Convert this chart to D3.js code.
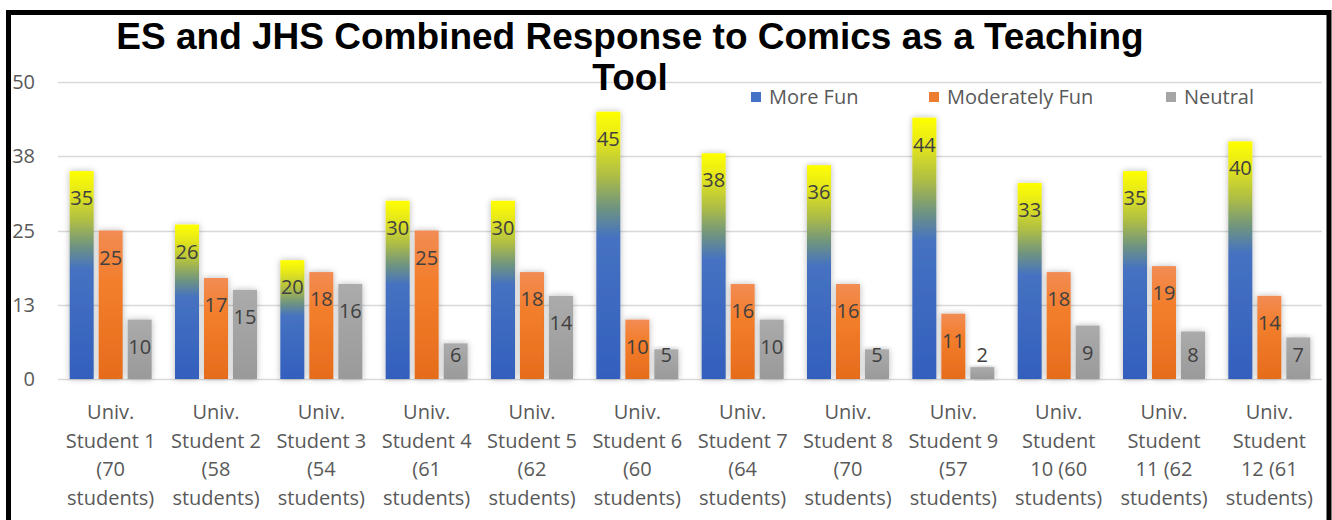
<!DOCTYPE html>
<html><head><meta charset="utf-8">
<script src="https://cdn.jsdelivr.net/npm/d3@7"></script>
<style>html,body{margin:0;padding:0;background:#fff;overflow:hidden}</style>
</head><body><svg id="c" width="1332" height="520"></svg>
<script>
const categories = [
  "Univ.|Student 1|(70|students)",
  "Univ.|Student 2|(58|students)",
  "Univ.|Student 3|(54|students)",
  "Univ.|Student 4|(61|students)",
  "Univ.|Student 5|(62|students)",
  "Univ.|Student 6|(60|students)",
  "Univ.|Student 7|(64|students)",
  "Univ.|Student 8|(70|students)",
  "Univ.|Student 9|(57|students)",
  "Univ.|Student|10 (60|students)",
  "Univ.|Student|11 (62|students)",
  "Univ.|Student|12 (61|students)"
];
const seriesNames = ["More Fun", "Moderately Fun", "Neutral"];
const moreFun = [35, 26, 20, 30, 30, 45, 38, 36, 44, 33, 35, 40];
const moderatelyFun = [25, 17, 18, 25, 18, 10, 16, 16, 11, 18, 19, 14];
const neutral = [10, 15, 16, 6, 14, 5, 10, 5, 2, 9, 8, 7];
const tickValues = [0, 12.5, 25, 37.5, 50];
const tickLabels = ["0", "13", "25", "38", "50"];
const titleLines = ["ES and JHS Combined Response to Comics as a Teaching", "Tool"];

const seriesValues = [moreFun, moderatelyFun, neutral];
const svg = d3.select("#c");
const W = 1332, H = 520;
svg.append("rect").attr("width", W).attr("height", H).attr("fill", "#fff");

const defs = svg.append("defs");
const gBlue = defs.append("linearGradient").attr("id", "gBlue").attr("x1", 0).attr("y1", 0).attr("x2", 0).attr("y2", 1);
[[0, "#ffff00"], [0.1, "#e6e81a"], [0.24, "#aebd45"], [0.36, "#6f9480"], [0.47, "#4672c2"], [1, "#335fbd"]]
  .forEach(([o, c]) => gBlue.append("stop").attr("offset", o).attr("stop-color", c));
const gOrange = defs.append("linearGradient").attr("id", "gOrange").attr("x1", 0).attr("y1", 0).attr("x2", 0).attr("y2", 1);
[[0, "#f28c54"], [0.35, "#f37e2c"], [1, "#e66c1c"]]
  .forEach(([o, c]) => gOrange.append("stop").attr("offset", o).attr("stop-color", c));
const gGray = defs.append("linearGradient").attr("id", "gGray").attr("x1", 0).attr("y1", 0).attr("x2", 0).attr("y2", 1);
[[0, "#ababab"], [1, "#9a9a9a"]]
  .forEach(([o, c]) => gGray.append("stop").attr("offset", o).attr("stop-color", c));
const f = defs.append("filter").attr("id", "sh").attr("x", "-40%").attr("y", "-10%").attr("width", "180%").attr("height", "120%");
f.append("feDropShadow").attr("dx", 0).attr("dy", 0).attr("stdDeviation", 3).attr("flood-color", "#000").attr("flood-opacity", 0.28);

const fills = ["url(#gBlue)", "url(#gOrange)", "url(#gGray)"];
const legendColors = ["#4472c4", "#ed7d31", "#a5a5a5"];

const y = d3.scaleLinear().domain([0, 50]).range([379, 82]);
const x0 = d3.scaleBand().domain(categories).range([58, 1322]).padding(0);
const groupW = 82;
const x1 = d3.scaleBand().domain(seriesNames).range([0, groupW]).paddingInner(5 / 29).paddingOuter(0);

// gridlines
svg.append("g").selectAll("line").data(tickValues).join("line")
  .attr("x1", 58).attr("x2", 1322)
  .attr("y1", d => Math.round(y(d)) + 0.5).attr("y2", d => Math.round(y(d)) + 0.5)
  .attr("stroke", "#d9d9d9").attr("stroke-width", 1.5);

// y tick labels
svg.append("g").selectAll("text").data(tickValues).join("text")
  .attr("x", 35).attr("y", d => y(d)).attr("dy", "0.35em")
  .attr("text-anchor", "end")
  .attr("font-family", "'Open Sans', sans-serif").attr("font-size", 20)
  .attr("fill", "#595959")
  .text((d, i) => tickLabels[i]);

// bars
const groups = svg.append("g").selectAll("g").data(categories).join("g")
  .attr("transform", d => `translate(${x0(d) + (x0.bandwidth() - groupW) / 2},0)`);
groups.selectAll("rect").data((d, ci) => seriesNames.map((s, si) => ({ s, si, v: seriesValues[si][ci] })))
  .join("rect")
  .attr("x", d => x1(d.s)).attr("width", x1.bandwidth())
  .attr("y", d => y(d.v)).attr("height", d => y(0) - y(d.v))
  .attr("fill", d => fills[d.si])
  .attr("filter", "url(#sh)");
groups.selectAll("text").data((d, ci) => seriesNames.map((s, si) => ({ s, si, v: seriesValues[si][ci] })))
  .join("text")
  .attr("x", d => x1(d.s) + x1.bandwidth() / 2)
  .attr("y", d => Math.min(y(d.v) + 27, y(0) - 24))
  .attr("dy", "0.35em")
  .attr("text-anchor", "middle")
  .attr("font-family", "'Open Sans', sans-serif").attr("font-size", 20)
  .attr("fill", "#404040")
  .text(d => d.v);

// x labels
const xl = svg.append("g").selectAll("text").data(categories).join("text")
  .attr("text-anchor", "middle")
  .attr("font-family", "'Open Sans', sans-serif").attr("font-size", 20)
  .attr("fill", "#595959");
xl.selectAll("tspan").data(d => d.split("|").map(t => ({ t, c: d }))).join("tspan")
  .attr("x", d => x0(d.c) + x0.bandwidth() / 2)
  .attr("y", (d, i) => 419 + i * 28.7)
  .text(d => d.t);

// title
svg.append("g").selectAll("text").data(titleLines).join("text")
  .attr("x", 630).attr("y", (d, i) => 49 + i * 41)
  .attr("text-anchor", "middle")
  .attr("font-family", "'Liberation Sans', Arial, sans-serif").attr("font-weight", "bold").attr("font-size", 37)
  .attr("fill", "#000")
  .text(d => d);

// legend
const legendX = [769, 947, 1184];
const lg = svg.append("g").selectAll("g").data(seriesNames).join("g");
lg.append("rect").attr("x", (d, i) => legendX[i] - 18).attr("y", 92).attr("width", 10).attr("height", 10)
  .attr("fill", (d, i) => legendColors[i]);
lg.append("text").attr("x", (d, i) => legendX[i]).attr("y", 97).attr("dy", "0.35em")
  .attr("font-family", "'Open Sans', sans-serif").attr("font-size", 20)
  .attr("fill", "#595959").text(d => d);

// frame
svg.append("rect").attr("x", 8.5).attr("y", 12.5).attr("width", 1320.5).attr("height", 540)
  .attr("fill", "none").attr("stroke", "#000").attr("stroke-width", 5);
</script></body></html>
